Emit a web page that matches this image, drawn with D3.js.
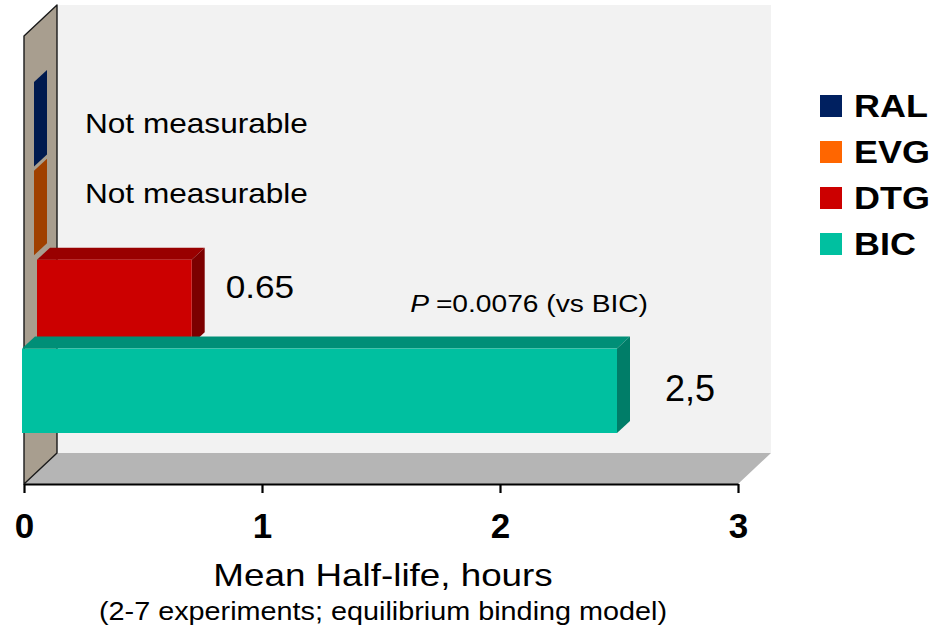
<!DOCTYPE html>
<html>
<head>
<meta charset="utf-8">
<script src="https://cdn.jsdelivr.net/npm/d3@7"></script>
<style>
  html, body { margin: 0; padding: 0; background: #ffffff; }
  svg { display: block; font-family: "Liberation Sans", Arial, sans-serif; }
</style>
</head>
<body>
<svg id="chart" width="942" height="627"></svg>
<script>
// ---- data ----
const categories = ["RAL", "EVG", "DTG", "BIC"];
const halfLifeHours = [0, 0, 0.65, 2.5];
const valueLabels = ["Not measurable", "Not measurable", "0.65", "2,5"];
const xTickValues = [0, 1, 2, 3];
const xTickLabels = ["0", "1", "2", "3"];
const pValueNote = "=0.0076 (vs BIC)";
const axisTitle = "Mean Half-life, hours";
const axisSubtitle = "(2-7 experiments; equilibrium binding model)";

// ---- styling ----
const palette = {
  RAL: { front: "#002060", top: "#001848", side: "#001a4f" },
  EVG: { front: "#ff6600", top: "#b84a00", side: "#a04000" },
  DTG: { front: "#cc0000", top: "#990000", side: "#7c0000" },
  BIC: { front: "#00c0a0", top: "#008f77", side: "#007d68" }
};
// how far each bar sits back from the front plane (px along the depth axis)
const barInset = { RAL: 10, EVG: 10, DTG: 13, BIC: -2 };
// value-label placement relative to each bar
const labelNudge = { RAL: 9, EVG: -10, DTG: -4, BIC: 10 };
const labelGap = { DTG: 21, BIC: 35 };
const labelFont = { DTG: { size: 32, sx: 1.1 }, BIC: { size: 36, sx: 1.0 } };

const svg = d3.select("#chart");

// ---- scales ----
const x = d3.scaleLinear().domain([0, 3]).range([24, 738]);
const y = d3.scaleBand().domain(categories).range([82, 433]).paddingInner(0.05).paddingOuter(0);

const axisY = 484;          // front edge of the floor
const wallTop = 5;          // top of back wall
const depth = { dx: 33, dy: -31 };   // oblique depth of the plot box
const bar = { dx: 13, dy: -12 };     // depth of each bar

// horizontally stretched text helper
function stretchedText(g, txt, tx, ty, opts) {
  const t = g.append("text")
    .attr("transform", `translate(${tx},${ty}) scale(${opts.sx || 1},1)`)
    .attr("x", 0).attr("y", 0)
    .attr("font-size", opts.size)
    .attr("font-weight", opts.weight || "normal")
    .attr("text-anchor", opts.anchor || "start")
    .attr("fill", opts.fill || "#000");
  if (opts.style) t.attr("font-style", opts.style);
  t.text(txt);
  return t;
}

// ---- plot box: back wall, floor, side wall ----
const box = svg.append("g");
box.append("rect")
  .attr("x", x(0) + depth.dx).attr("y", wallTop)
  .attr("width", x(3) - x(0)).attr("height", axisY + depth.dy - wallTop)
  .attr("fill", "#f2f2f2");

box.append("polygon")
  .attr("points", [
    [x(0), axisY], [x(3), axisY],
    [x(3) + depth.dx, axisY + depth.dy], [x(0) + depth.dx, axisY + depth.dy]
  ].map(p => p.join(",")).join(" "))
  .attr("fill", "#b5b5b5");

box.append("polygon")
  .attr("points", [
    [x(0), wallTop - depth.dy], [x(0) + depth.dx, wallTop],
    [x(0) + depth.dx, axisY + depth.dy], [x(0), axisY]
  ].map(p => p.join(",")).join(" "))
  .attr("fill", "#a89e8f")
  .attr("stroke", "#1a1a1a")
  .attr("stroke-width", 1.4)
  .attr("stroke-linejoin", "round");

// ---- bars (3D boxes) ----
const rows = categories.map((c, i) => ({ cat: c, value: halfLifeHours[i], label: valueLabels[i] }));
const bars = svg.append("g");
const pts = a => a.map(p => p.join(",")).join(" ");

rows.forEach(d => {
  const x0 = x(0) + barInset[d.cat];
  const x1 = x(d.value) + barInset[d.cat];
  const y0 = y(d.cat);
  const y1 = y0 + y.bandwidth();
  const col = palette[d.cat];
  const g = bars.append("g");

  if (d.value === 0) {
    // zero-length bar: only its end face shows, lying on the side wall
    g.append("polygon")
      .attr("points", pts([[x0, y0], [x0 + bar.dx, y0 + bar.dy], [x0 + bar.dx, y1 + bar.dy], [x0, y1]]))
      .attr("fill", col.side);
    return;
  }
  g.append("polygon")
    .attr("points", pts([[x0, y0], [x1, y0], [x1 + bar.dx, y0 + bar.dy], [x0 + bar.dx, y0 + bar.dy]]))
    .attr("fill", col.top);
  g.append("polygon")
    .attr("points", pts([[x1, y0], [x1 + bar.dx, y0 + bar.dy], [x1 + bar.dx, y1 + bar.dy], [x1, y1]]))
    .attr("fill", col.side);
  g.append("rect")
    .attr("x", x0).attr("y", y0)
    .attr("width", x1 - x0).attr("height", y1 - y0)
    .attr("fill", col.front);
});

// ---- value labels ----
const labels = svg.append("g");
rows.forEach(d => {
  const cy = y(d.cat) + y.bandwidth() / 2 + labelNudge[d.cat];
  if (d.value === 0) {
    stretchedText(labels, d.label, 85, cy, { size: 27, sx: 1.17 });
  } else {
    const xEnd = x(d.value) + barInset[d.cat] + bar.dx;
    stretchedText(labels, d.label, xEnd + labelGap[d.cat], cy, labelFont[d.cat]);
  }
});

// p-value note above the BIC bar
{
  const bicEnd = x(halfLifeHours[3]) + barInset.BIC + bar.dx;
  const t = labels.append("text")
    .attr("transform", `translate(${bicEnd + 18},${y("BIC") - 37}) scale(1.15,1)`)
    .attr("text-anchor", "end")
    .attr("font-size", 24.5)
    .attr("fill", "#000");
  t.append("tspan").attr("font-style", "italic").text("P ");
  t.append("tspan").text(pValueNote);
}

// ---- x axis ----
const xAxis = d3.axisBottom(x)
  .tickValues(xTickValues)
  .tickFormat((v, i) => xTickLabels[i])
  .tickSize(9)
  .tickSizeOuter(0)
  .tickPadding(20);

const ax = svg.append("g")
  .attr("transform", `translate(0,${axisY})`)
  .call(xAxis);
ax.select(".domain").attr("stroke", "#000").attr("stroke-width", 2.2);
ax.selectAll(".tick line").attr("stroke", "#000").attr("stroke-width", 2.2);
ax.selectAll(".tick text")
  .attr("fill", "#000")
  .attr("font-size", 35)
  .attr("font-weight", "bold")
  .attr("font-family", "'Liberation Sans', Arial, sans-serif");

// ---- axis titles ----
stretchedText(svg, axisTitle, 383, 586, { size: 32, sx: 1.15, anchor: "middle" });
stretchedText(svg, axisSubtitle, 383, 620, { size: 25.5, sx: 1.13, anchor: "middle" });

// ---- legend ----
const legend = svg.append("g");
categories.forEach((c, i) => {
  const top = 95 + i * 46;
  legend.append("rect")
    .attr("x", 820).attr("y", top)
    .attr("width", 22).attr("height", 22)
    .attr("fill", palette[c].front);
  stretchedText(legend, c, 854, top + 22, { size: 31, sx: 1.16, weight: "bold" });
});
</script>
</body>
</html>
